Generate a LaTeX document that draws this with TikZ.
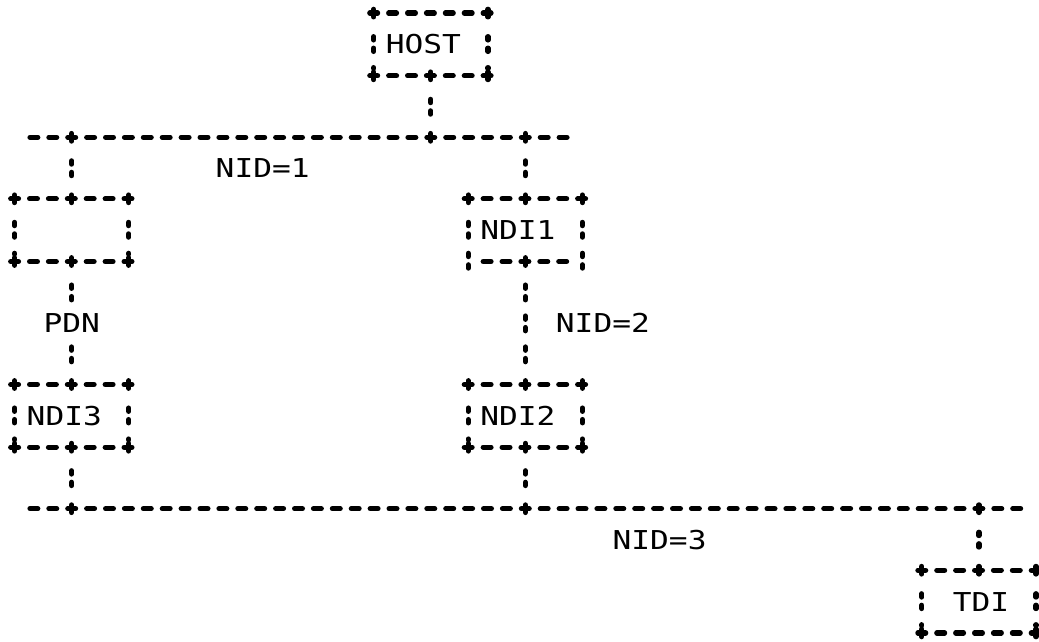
\documentclass[tikz,border=0pt]{standalone}
\usepackage{fontspec}
\newfontfamily\dotfont[FakeStretch=1.2]{DejaVu Sans Mono}
\newcommand\frameedges[1]{%
  \draw[hbar] (#1.north west) -- (#1.north east);
  \draw[hbar] (#1.south west) -- (#1.south east);
  \draw[vbar] (#1.north west) -- (#1.south west);
  \draw[vbar] (#1.north east) -- (#1.south east);}
\begin{document}
\begin{tikzpicture}[x=0.5pt,y=-0.5pt,
  hbar/.style={line width=2.6pt, line cap=round, dash pattern=on 3.9pt off 5.55pt,
    shorten <=-1.95pt, shorten >=-1.95pt},
  vbar/.style={line width=2.6pt, line cap=round,
    dash pattern=on 1.65pt off 4.1pt on 1.65pt off 8.075pt, dash phase=7.4pt,
    shorten <=3.7pt, shorten >=3.7pt},
  box/.style={rectangle, inner sep=0pt, minimum width=56.7pt, minimum height=30.95pt},
  lbl/.style={inner sep=0pt, anchor=west, font=\dotfont\fontsize{13}{15}\selectfont},
  jplus/.pic={\draw[line width=2.6pt, line cap=round] (0,-1.9pt) -- (0,1.9pt);}
]
\useasboundingbox (0,0) rectangle (1039,642);
\begin{scope}[shift={(7.5pt,-6.75pt)}, x=9.45pt, y=-15.475pt]
  % boxes
  \node[box] (host) at (22,1) {};
  \node[box] (lbox) at (3,7) {};
  \node[box] (ndi1) at (27,7) {};
  \node[box] (ndi3) at (3,13) {};
  \node[box] (ndi2) at (27,13) {};
  \node[box] (tdi) at (51,19) {};
  % bus points
  \coordinate (b1w) at (1,4);  \coordinate (b1e) at (29,4);
  \coordinate (j1a) at (3,4);  \coordinate (j1b) at (22,4); \coordinate (j1c) at (27,4);
  \coordinate (b2w) at (1,16); \coordinate (b2e) at (53,16);
  \coordinate (j2a) at (3,16); \coordinate (j2b) at (27,16); \coordinate (j2c) at (51,16);
  % box texts
  \node[lbl] (hostt) at (19.6,1) {HOST};
  \node[lbl] (ndi1t) at (24.6,7) {NDI1};
  \node[lbl] (ndi3t) at (0.6,13) {NDI3};
  \node[lbl] (ndi2t) at (24.6,13) {NDI2};
  \node[lbl] (tdit) at (49.6,19) {TDI};
  % network labels
  \node[lbl] (nid1) at (10.6,5) {NID=1};
  \node[lbl] (nid2) at (28.6,10) {NID=2};
  \node[lbl] (nid3) at (31.6,17) {NID=3};
  % box outlines
  \frameedges{host}
  \frameedges{lbox}
  \frameedges{ndi3}
  \frameedges{ndi2}
  \frameedges{tdi}
  \draw[hbar] (ndi1.north west) -- (ndi1.north east);
  \draw[hbar] ([xshift=9.45pt]ndi1.south west) -- ([xshift=-9.45pt]ndi1.south east);
  \draw[vbar, shorten >=-3.7pt] (ndi1.north west) -- (ndi1.south west);
  \draw[vbar, shorten >=-3.7pt] (ndi1.north east) -- (ndi1.south east);
  % buses
  \draw[hbar] (b1w) -- (b1e);
  \draw[hbar] (b2w) -- (b2e);
  % connectors
  \draw[vbar] (host.south) -- (j1b);
  \draw[vbar] (j1a) -- (lbox.north);
  \draw[vbar] (j1c) -- (ndi1.north);
  \draw[vbar] (lbox.south) -- node[lbl, anchor=center, fill=white, inner ysep=3pt] (pdn) {PDN} (ndi3.north);
  \draw[vbar] (ndi1.south) -- (ndi2.north);
  \draw[vbar] (ndi3.south) -- (j2a);
  \draw[vbar] (ndi2.south) -- (j2b);
  \draw[vbar] (j2c) -- (tdi.north);
  % plus marks
  \foreach \p in {host.north west, host.north east, host.south west, host.south, host.south east,
    j1a, j1b, j1c,
    lbox.north west, lbox.north, lbox.north east, lbox.south west, lbox.south, lbox.south east,
    ndi1.north west, ndi1.north, ndi1.north east, ndi1.south,
    ndi3.north west, ndi3.north, ndi3.north east, ndi3.south west, ndi3.south, ndi3.south east,
    ndi2.north west, ndi2.north, ndi2.north east, ndi2.south west, ndi2.south, ndi2.south east,
    j2a, j2b, j2c,
    tdi.north west, tdi.north, tdi.north east, tdi.south west, tdi.south east}
    \pic at (\p) {jplus};
\end{scope}
\end{tikzpicture}
\end{document}
